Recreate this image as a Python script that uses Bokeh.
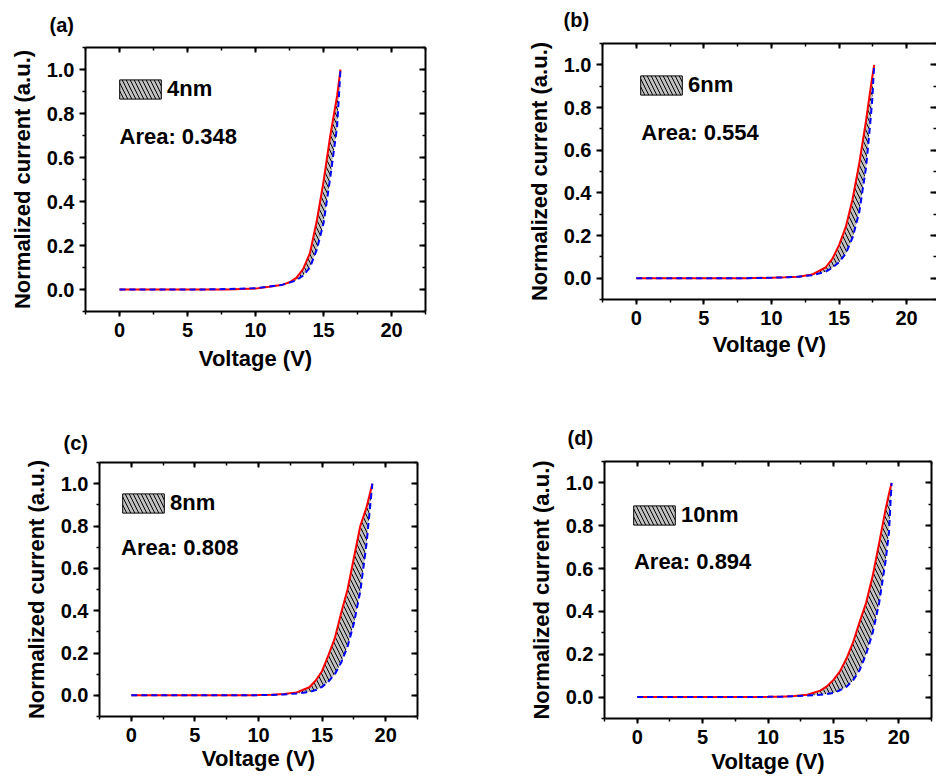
from bokeh.plotting import figure
from bokeh.layouts import column, row
from bokeh.models import (Range1d, LinearAxis, SingleIntervalTicker, Label,
                          Legend, LegendItem, ColumnDataSource, PrintfTickFormatter)
from bokeh.embed import file_html
from bokeh.resources import INLINE

FONT = "Liberation Sans"

# ---------------- data ----------------
panel_tags = ["(a)", "(b)", "(c)", "(d)"]
thickness_labels = ["4nm", "6nm", "8nm", "10nm"]
area_texts = ["Area: 0.348", "Area: 0.554", "Area: 0.808", "Area: 0.894"]
x_tick_interval = 5
y_tick_interval = 0.2
x_label = "Voltage (V)"
y_label = "Normalized current (a.u.)"

voltage_a = [0, 2, 4, 6, 8, 10, 11, 12, 12.5, 13, 13.5, 14, 14.5, 15, 15.5, 16, 16.25]
red_a = [0, 0, 0, 0, 0, 0.004, 0.012, 0.022, 0.033, 0.053, 0.093, 0.165, 0.31, 0.49, 0.70, 0.88, 1.0]
blue_a = [0, 0, 0, 0, 0.002, 0.006, 0.013, 0.022, 0.031, 0.042, 0.063, 0.10, 0.18, 0.30, 0.51, 0.74, 1.0]

voltage_b = [0, 2, 4, 6, 8, 10, 11, 12, 13, 14, 14.5, 15, 15.5, 16, 16.5, 17, 17.3, 17.45, 17.6]
red_b = [0, 0, 0, 0, 0, 0.002, 0.004, 0.007, 0.017, 0.05, 0.09, 0.155, 0.24, 0.37, 0.54, 0.74, 0.875, 0.94, 1.0]
blue_b = [0, 0, 0, 0, 0, 0.002, 0.004, 0.007, 0.014, 0.03, 0.048, 0.075, 0.115, 0.19, 0.31, 0.52, 0.72, 0.83, 1.0]

voltage_c = [0, 2, 4, 6, 8, 10, 11, 12, 13, 14, 14.5, 15, 15.5, 16, 16.5, 17, 17.5, 18, 18.5, 18.95]
red_c = [0, 0, 0, 0, 0, 0.001, 0.003, 0.006, 0.014, 0.038, 0.07, 0.115, 0.19, 0.27, 0.39, 0.50, 0.65, 0.80, 0.89, 1.0]
blue_c = [0, 0, 0, 0, 0, 0.001, 0.002, 0.004, 0.009, 0.016, 0.025, 0.04, 0.065, 0.10, 0.155, 0.23, 0.34, 0.49, 0.72, 1.0]

voltage_d = [0, 2, 4, 6, 8, 10, 11, 12, 13, 14, 14.5, 15, 15.5, 16, 16.5, 17, 17.5, 18, 18.5, 19, 19.25, 19.45]
red_d = [0, 0, 0, 0, 0, 0.001, 0.002, 0.005, 0.011, 0.03, 0.05, 0.08, 0.12, 0.18, 0.255, 0.35, 0.44, 0.565, 0.72, 0.88, 0.95, 1.0]
blue_d = [0, 0, 0, 0, 0, 0.001, 0.002, 0.004, 0.007, 0.011, 0.014, 0.019, 0.032, 0.048, 0.078, 0.125, 0.20, 0.30, 0.44, 0.64, 0.77, 1.0]

x_ranges = [(-2.5, 22.5), (-2.5, 22.21), (-2.5, 22.5), (-2.5, 22.5)]
y_range = (-0.1, 1.1)


def style_text_axis(ax):
    ax.axis_line_width = 2
    ax.axis_line_color = "black"
    ax.major_tick_line_width = 2
    ax.minor_tick_line_width = 1.5
    ax.major_tick_line_color = "black"
    ax.minor_tick_line_color = "black"
    ax.major_label_text_font = FONT
    ax.major_label_text_font_style = "bold"
    ax.major_label_text_font_size = "20px"
    ax.major_label_text_color = "black"
    ax.axis_label_text_font = FONT
    ax.axis_label_text_font_style = "bold"
    ax.axis_label_text_font_size = "22px"
    ax.axis_label_text_color = "black"


def mirror_axis(interval, tick_in, minor_in, show_line=True):
    ax = LinearAxis(ticker=SingleIntervalTicker(interval=interval, num_minor_ticks=2))
    ax.major_label_text_font_size = "1px"
    ax.major_label_text_color = None
    ax.major_label_standoff = 0
    ax.axis_label_standoff = 0
    ax.major_tick_in = tick_in
    ax.major_tick_out = 0
    ax.minor_tick_in = minor_in
    ax.minor_tick_out = 0
    ax.axis_line_width = 2
    ax.axis_line_color = "black" if show_line else None
    ax.major_tick_line_width = 2
    ax.minor_tick_line_width = 1.5
    return ax


def spacer_axis(gap):
    # an invisible axis that only reserves room between the frame and the tag
    ax = LinearAxis(ticker=SingleIntervalTicker(interval=x_tick_interval))
    ax.axis_line_color = None
    ax.major_tick_line_color = None
    ax.minor_tick_line_color = None
    ax.major_label_text_color = None
    ax.major_label_text_font_size = "1px"
    ax.major_label_standoff = 0
    ax.axis_label_standoff = 0
    ax.major_tick_in = 0
    ax.minor_tick_in = 0
    ax.minor_tick_out = 0
    ax.major_tick_out = gap
    return ax


def make_panel(tag, thick, area_text, volts, red, blue, xr, geom,
               legend_loc, area_pos, title_offset, title_gap, xlabel_gap,
               right_line=True):
    w, h, mbl, mbr, mbt, mbb = geom
    p = figure(width=w, height=h, output_backend="svg", toolbar_location=None,
               x_range=Range1d(*xr), y_range=Range1d(*y_range),
               min_border_left=mbl, min_border_right=mbr,
               min_border_top=mbt, min_border_bottom=mbb,
               outline_line_color=None, background_fill_color="white",
               border_fill_color="white")
    p.grid.grid_line_color = None

    xax = p.xaxis[0]
    xax.ticker = SingleIntervalTicker(interval=x_tick_interval, num_minor_ticks=2)
    style_text_axis(xax)
    xax.axis_label = x_label
    xax.major_tick_out = 5
    xax.major_tick_in = 0
    xax.minor_tick_out = 3
    xax.minor_tick_in = 0
    xax.major_label_standoff = 6
    xax.axis_label_standoff = xlabel_gap

    yax = p.yaxis[0]
    yax.ticker = SingleIntervalTicker(interval=y_tick_interval, num_minor_ticks=2)
    yax.formatter = PrintfTickFormatter(format="%.1f")
    style_text_axis(yax)
    yax.axis_label = y_label
    yax.major_tick_out = 6
    yax.major_tick_in = 0
    yax.minor_tick_out = 3
    yax.minor_tick_in = 0
    yax.major_label_standoff = 5
    yax.axis_label_standoff = 9

    p.add_layout(mirror_axis(x_tick_interval, 5, 3), "above")
    p.add_layout(spacer_axis(title_gap), "above")
    p.add_layout(mirror_axis(y_tick_interval, 6, 3, show_line=right_line), "right")

    p.title.text = tag
    p.title.align = "left"
    p.title.offset = title_offset
    p.title.text_font = FONT
    p.title.text_font_style = "bold"
    p.title.text_font_size = "20px"
    p.title.text_color = "black"

    src = ColumnDataSource(dict(v=volts, red=red, blue=blue))
    p.varea(x="v", y1="blue", y2="red", source=src, fill_color="#c0c0c0",
            hatch_pattern="\\", hatch_color="black", hatch_scale=8, hatch_weight=1)
    p.line("v", "red", source=src, line_color="#ff0000", line_width=2)
    p.line("v", "blue", source=src, line_color="#0000ff", line_width=2, line_dash="6 4")

    # legend key: outline of the shaded region (hidden on the plot itself)
    px = list(volts) + list(volts)[::-1]
    py = list(red) + list(blue)[::-1]
    key = p.patch(px, py, fill_color="#c0c0c0", hatch_pattern="\\",
                  hatch_color="black", hatch_scale=8, hatch_weight=1,
                  line_color="black", line_width=1, visible=False)
    legend = Legend(items=[LegendItem(label=thick, renderers=[key])],
                    location=legend_loc, glyph_width=52, glyph_height=24,
                    label_standoff=1, padding=0, margin=0, spacing=0,
                    border_line_color=None, background_fill_alpha=0,
                    label_text_font=FONT, label_text_font_style="bold",
                    label_text_font_size="22px", label_text_color="black")
    p.add_layout(legend)

    p.add_layout(Label(x=area_pos[0], y=area_pos[1], text=area_text,
                       text_font=FONT, text_font_style="bold",
                       text_font_size="22px", text_color="black",
                       text_baseline="middle", text_align="left"))
    return p


pa = make_panel(panel_tags[0], thickness_labels[0], area_texts[0],
                voltage_a, red_a, blue_a, x_ranges[0],
                (470, 388, 85, 45, 47, 77), (29, 209), (0.0, 0.695), -36, 7, 6)
pb = make_panel(panel_tags[1], thickness_labels[1], area_texts[1],
                voltage_b, red_b, blue_b, x_ranges[1],
                (466, 388, 132, 0, 43, 89), (33, 201), (0.37, 0.684), -39, 8, 4,
                right_line=False)
pc = make_panel(panel_tags[2], thickness_labels[2], area_texts[2],
                voltage_c, red_c, blue_c, x_ranges[2],
                (470, 389, 99, 53, 74, 61), (18, 200), (-0.81, 0.697), -36, 4, 1)
pd = make_panel(panel_tags[3], thickness_labels[3], area_texts[3],
                voltage_d, red_d, blue_d, x_ranges[3],
                (466, 389, 134, 5, 73, 59), (24, 190), (-0.25, 0.634), -37, 8, 2)

# each figure wrapped in its own column so that the row does not align frames
layout = column(row(column(pa), column(pb)), row(column(pc), column(pd)))

with open("out.html", "w") as f:
    f.write(file_html(layout, INLINE))
